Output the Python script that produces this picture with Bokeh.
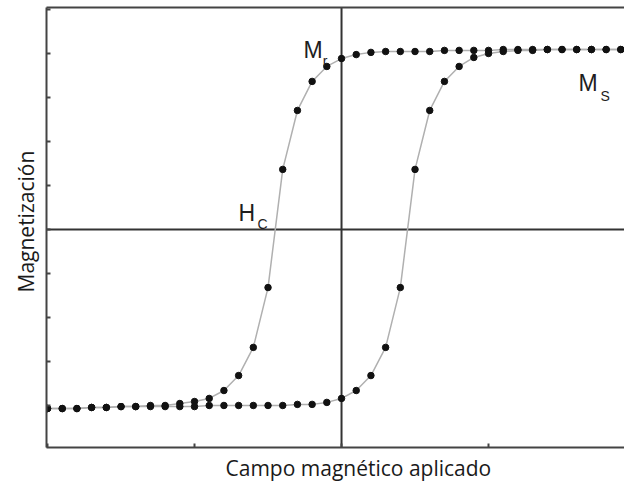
from bokeh.plotting import figure
from bokeh.models import Span, LinearAxis, FixedTicker, Title, Range1d, ColumnDataSource
from bokeh.core.properties import value
from bokeh.embed import file_html
from bokeh.resources import INLINE

# Applied field (arbitrary units) at which magnetization was sampled
field_h = [-2.0, -1.9, -1.8, -1.7, -1.6, -1.5, -1.4, -1.3, -1.2, -1.1,
           -1.0, -0.9, -0.8, -0.7, -0.6, -0.5, -0.4, -0.3, -0.2, -0.1,
           0.0, 0.1, 0.2, 0.3, 0.4, 0.5, 0.6, 0.7, 0.8, 0.9,
           1.0, 1.1, 1.2, 1.3, 1.4, 1.5, 1.6, 1.7, 1.8, 1.9]

# Descending branch (field decreasing from +saturation)
m_desc = [-0.814, -0.814, -0.814, -0.809, -0.809, -0.805, -0.805, -0.800, -0.800, -0.791,
          -0.782, -0.768, -0.732, -0.664, -0.536, -0.264, 0.273, 0.541, 0.673, 0.741,
          0.777, 0.795, 0.805, 0.809, 0.809, 0.809, 0.809, 0.814, 0.814, 0.814,
          0.814, 0.818, 0.818, 0.818, 0.818, 0.818, 0.818, 0.818, 0.818, 0.818]

# Ascending branch (field increasing from -saturation)
m_asc = [-0.814, -0.814, -0.814, -0.809, -0.809, -0.805, -0.805, -0.805, -0.805, -0.805,
         -0.805, -0.800, -0.800, -0.800, -0.800, -0.800, -0.800, -0.795, -0.795, -0.786,
         -0.768, -0.732, -0.664, -0.536, -0.264, 0.273, 0.541, 0.673, 0.741, 0.782,
         0.800, 0.809, 0.814, 0.814, 0.818, 0.818, 0.818, 0.818, 0.818, 0.818]

# Annotations: symbol and its subscript
sym_text = ["M", "M", "H"]
sym_x = [-0.259, 1.612, -0.701]
sym_y = [0.814, 0.664, 0.073]
sub_text = ["r", "S", "C"]
sub_x = [-0.128, 1.762, -0.571]
sub_y = [0.766, 0.609, 0.027]

x_ticks = [-2, -1, 0, 1]
y_ticks = [-1.0, -0.8, -0.6, -0.4, -0.2, 0.0, 0.2, 0.4, 0.6, 0.8, 1.0]

frame_color = "#444444"

p = figure(width=624, height=485,
           x_range=Range1d(-2.007, 1.925), y_range=Range1d(-0.991, 1.009),
           output_backend="svg", toolbar_location=None,
           min_border_left=46, min_border_right=0,
           min_border_top=7, min_border_bottom=38)
p.outline_line_color = None
p.grid.visible = False
p.background_fill_color = "white"

for ax, ticks in ((p.xaxis, x_ticks), (p.yaxis, y_ticks)):
    ax.ticker = FixedTicker(ticks=ticks)
    ax.major_label_overrides = {t: "" for t in ticks}
    ax.major_label_text_font_size = "1px"
    ax.major_label_standoff = 0
    ax.major_tick_in = 4
    ax.major_tick_out = 0
    ax.minor_tick_in = 0
    ax.minor_tick_out = 0
    ax.axis_line_width = 2
    ax.axis_line_color = frame_color
    ax.major_tick_line_color = frame_color
    ax.major_tick_line_width = 2

top = LinearAxis(ticker=FixedTicker(ticks=[]), major_label_text_font_size="1px",
                 major_tick_in=0, major_tick_out=0, minor_tick_in=0, minor_tick_out=0,
                 axis_line_width=2, axis_line_color=frame_color)
p.add_layout(top, "above")

# Zero-field and zero-magnetization reference lines
p.add_layout(Span(location=0, dimension="height", line_color="#333333",
                  line_width=2, level="underlay"))
p.add_layout(Span(location=0, dimension="width", line_color="#333333",
                  line_width=2, level="underlay"))

# Hysteresis loop
for m in (m_desc, m_asc):
    p.line(field_h, m, line_color="#b0b0b0", line_width=1.5)
for m in (m_desc, m_asc):
    p.scatter(field_h, m, size=6.5, fill_color="#111111", line_color="#111111")

sym_src = ColumnDataSource(dict(x=sym_x, y=sym_y, text=sym_text))
sub_src = ColumnDataSource(dict(x=sub_x, y=sub_y, text=sub_text))
p.text("x", "y", text="text", source=sym_src, text_font=value("Liberation Sans"),
       text_font_size="23px", text_color="#1e1e1e", text_align="left",
       text_baseline="alphabetic")
p.text("x", "y", text="text", source=sub_src, text_font=value("Liberation Sans"),
       text_font_size="14px", text_color="#1e1e1e", text_align="left",
       text_baseline="alphabetic")

xt = Title(text="Campo magnético aplicado", align="left", offset=179,
           text_font="Open Sans", text_font_size="21px", text_font_style="normal",
           text_color="#1a1a1a", standoff=8)
p.add_layout(xt, "below")
yt = Title(text="Magnetización", align="left", offset=155,
           text_font="Open Sans", text_font_size="21px", text_font_style="normal",
           text_color="#1a1a1a", standoff=14)
p.add_layout(yt, "left")

open("out.html", "w").write(file_html(p, INLINE))
